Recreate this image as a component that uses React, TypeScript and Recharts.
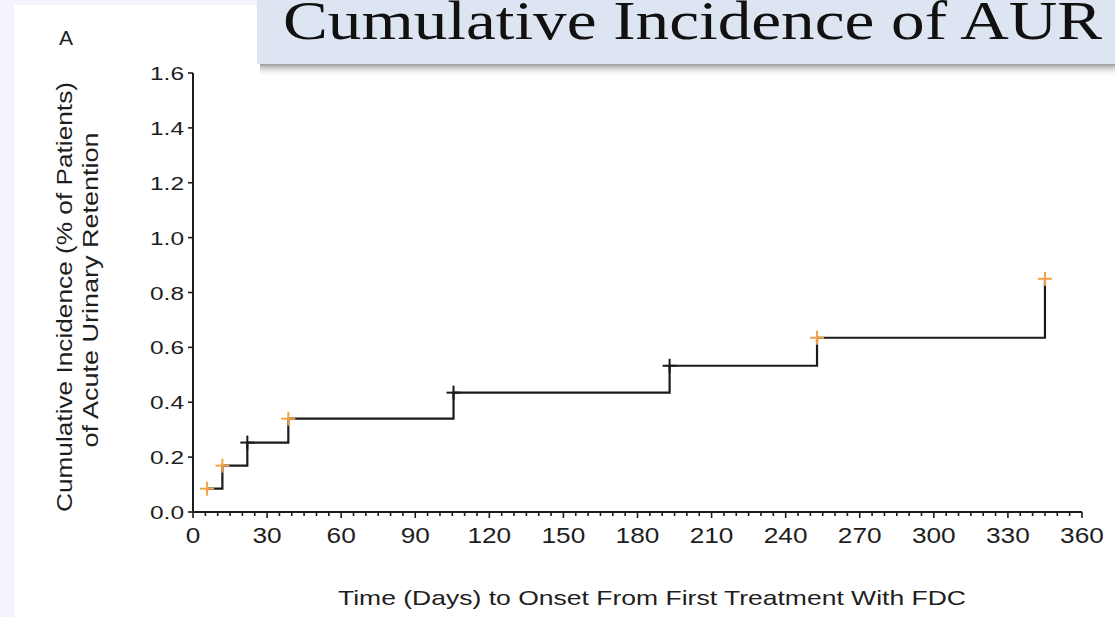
import React from 'react';
import { LineChart, Line, XAxis, YAxis } from 'recharts';

// ---- data ----
const days = [5.7, 11.9, 22.0, 38.6, 105.5, 193.0, 252.7, 345.0];
const incidence = [0.085, 0.169, 0.253, 0.34, 0.435, 0.533, 0.635, 0.85];
const markerKind = ['A', 'A', 'B', 'A', 'B', 'B', 'A', 'A'];

const xMajorTicks = [0, 30, 60, 90, 120, 150, 180, 210, 240, 270, 300, 330, 360];
const xMinorStep = 5;
const yTicks = [0, 0.2, 0.4, 0.6, 0.8, 1.0, 1.2, 1.4, 1.6];

const titleText = 'Cumulative Incidence of AUR';
const panelLabel = 'A';
const yLabelLine1 = 'Cumulative Incidence (% of Patients)';
const yLabelLine2 = 'of Acute Urinary Retention';
const xLabelText = 'Time (Days) to Onset From First Treatment With FDC';

const data = days.map((d, i) => ({ day: d, cum: incidence[i], kind: markerKind[i] }));
const xAllTicks: number[] = [];
for (let t = 0; t <= 360; t += xMinorStep) xAllTicks.push(t);

const kindColor: Record<string, string> = { A: '#f5a247', B: '#1a1a1a' };
const AXIS = '#1c1c1c';
const TEXT = '#1e1e1e';
const SANS = '"Liberation Sans", Arial, sans-serif';

const XTick = (props: any) => {
  const { x, y, payload } = props;
  const v = payload.value;
  const major = xMajorTicks.includes(v);
  const label = String(v);
  return (
    <g>
      <line x1={x} x2={x} y1={y} y2={y + (major ? 6 : 4)} stroke={AXIS} strokeWidth={1.6} />
      {major && (
        <text
          x={x}
          y={y + 31}
          textAnchor="middle"
          fontFamily={SANS}
          fontSize={22}
          fill={TEXT}
          textLength={label.length * 14.6}
          lengthAdjust="spacingAndGlyphs"
        >
          {label}
        </text>
      )}
    </g>
  );
};

const YTick = (props: any) => {
  const { x, y, payload } = props;
  const label = Number(payload.value).toFixed(1);
  return (
    <g>
      <line x1={x - 5} x2={x} y1={y} y2={y} stroke={AXIS} strokeWidth={1.6} />
      <text
        x={x - 9}
        y={y + 7}
        textAnchor="end"
        fontFamily={SANS}
        fontSize={19}
        fill={TEXT}
        textLength={34}
        lengthAdjust="spacingAndGlyphs"
      >
        {label}
      </text>
    </g>
  );
};

const PlusDot = (props: any) => {
  const { cx, cy, payload, index } = props;
  if (cx == null || cy == null) return <g key={index} />;
  const c = kindColor[payload.kind];
  const r = 7;
  return (
    <g key={index}>
      <line x1={cx - r} x2={cx + r} y1={cy} y2={cy} stroke={c} strokeWidth={2} />
      <line x1={cx} x2={cx} y1={cy - r} y2={cy + r} stroke={c} strokeWidth={2} />
    </g>
  );
};

export default function App() {
  return (
    <div style={{ position: 'absolute', left: 0, top: 0, width: 1115, height: 617, overflow: 'hidden' }}>
      <svg width={1115} height={617} style={{ position: 'absolute', left: 0, top: 0 }}>
        <defs>
          <linearGradient id="shadowGrad" x1="0" y1="0" x2="0" y2="1">
            <stop offset="0" stopColor="#808080" stopOpacity={0.8} />
            <stop offset="1" stopColor="#ffffff" stopOpacity={0} />
          </linearGradient>
        </defs>
        <rect x={0} y={0} width={1115} height={617} fill="#f4f5fc" />
        <rect x={14} y={5} width={1101} height={612} fill="#ffffff" />
        <rect x={260} y={64} width={855} height={13} fill="url(#shadowGrad)" />
        <rect x={257} y={-4} width={858} height={68} fill="#dce5f1" />
        <text
          x={283}
          y={39}
          fontFamily='"Liberation Serif", "Times New Roman", serif'
          fontSize={55}
          fill="#111"
          textLength={819}
          lengthAdjust="spacingAndGlyphs"
        >
          {titleText}
        </text>
        <text x={66} y={45} textAnchor="middle" fontFamily={SANS} fontSize={21} fill={TEXT}>
          {panelLabel}
        </text>
        <text
          transform="translate(72,297) rotate(-90)"
          textAnchor="middle"
          fontFamily={SANS}
          fontSize={22}
          fill={TEXT}
          textLength={430}
          lengthAdjust="spacingAndGlyphs"
        >
          {yLabelLine1}
        </text>
        <text
          transform="translate(98,290) rotate(-90)"
          textAnchor="middle"
          fontFamily={SANS}
          fontSize={22}
          fill={TEXT}
          textLength={315}
          lengthAdjust="spacingAndGlyphs"
        >
          {yLabelLine2}
        </text>
        <text
          x={652}
          y={605}
          textAnchor="middle"
          fontFamily={SANS}
          fontSize={21}
          fill={TEXT}
          textLength={628}
          lengthAdjust="spacingAndGlyphs"
        >
          {xLabelText}
        </text>
      </svg>
      <div style={{ position: 'absolute', left: 0, top: 0 }}>
        <LineChart width={1115} height={617} data={data} margin={{ top: 73, right: 33, bottom: 0, left: 0 }}>
          <XAxis
            dataKey="day"
            type="number"
            domain={[0, 360]}
            ticks={xAllTicks}
            interval={0}
            tickSize={0}
            tickMargin={0}
            tickLine={false}
            axisLine={{ stroke: AXIS, strokeWidth: 2 }}
            tick={<XTick />}
            height={105}
            allowDataOverflow
          />
          <YAxis
            type="number"
            domain={[0, 1.6]}
            ticks={yTicks}
            interval={0}
            tickSize={0}
            tickMargin={0}
            tickLine={false}
            axisLine={{ stroke: AXIS, strokeWidth: 2 }}
            tick={<YTick />}
            width={193}
            allowDataOverflow
          />
          <Line
            dataKey="cum"
            type="stepAfter"
            stroke="#1a1a1a"
            strokeWidth={2.2}
            dot={(p: any) => <PlusDot {...p} />}
            activeDot={false}
            isAnimationActive={false}
          />
        </LineChart>
      </div>
    </div>
  );
}
